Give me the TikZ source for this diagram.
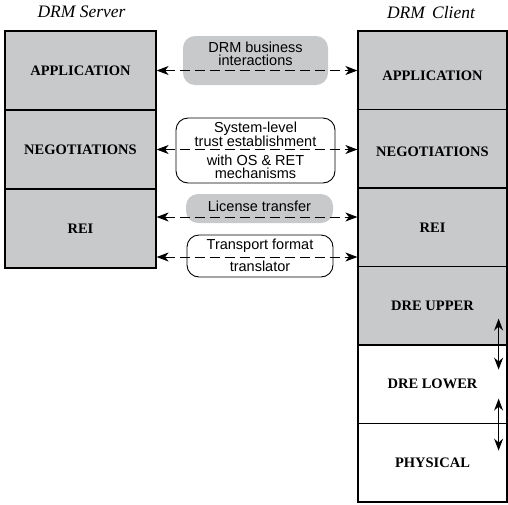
\documentclass[tikz,border=0pt]{standalone}
\usepackage{fontspec}
\setmainfont{Liberation Serif}
\setsansfont{Liberation Sans}
\usetikzlibrary{arrows.meta}
\definecolor{boxgray}{RGB}{200,201,203}
\begin{document}
\begin{tikzpicture}[x=1pt,y=-1pt,
  layer/.style={draw,line width=1.2pt,fill=boxgray,inner sep=0pt,
    minimum width=151pt,minimum height=79pt,
    font=\fontsize{14.5}{16}\selectfont\bfseries},
  clayer/.style={layer,minimum width=149pt,minimum height=78.5pt},
  gbub/.style={fill=boxgray,rounded corners=12pt,inner sep=0pt},
  wbub/.style={draw,line width=0.9pt,fill=white,rounded corners=12pt,inner sep=0pt},
  btxt/.style={align=center,inner sep=0pt,font=\sffamily\fontsize{14.5}{13}\selectfont},
  ttl/.style={font=\itshape\fontsize{17.5}{20}\selectfont},
  link/.style={dash pattern=on 10pt off 5pt,line width=1pt,
    {Stealth[length=12pt,width=9pt,inset=3.5pt]}-{Stealth[length=12pt,width=9pt,inset=3.5pt]}},
  vlink/.style={line width=1.1pt,
    {Stealth[length=12pt,width=9pt,inset=4pt]}-{Stealth[length=12pt,width=9pt,inset=4pt]}}]
\useasboundingbox (0,0) rectangle (508,504);
% titles
\node[ttl] (srvttl) at (81.5,12) {DRM Server};
\node[ttl] (clittl) at (431,13) {DRM\ \,Client};
% server stack
\node[layer] (sapp) at (80.5,70.5) {APPLICATION};
\node[layer] (sneg) at (80.5,149.5) {NEGOTIATIONS};
\node[layer] (srei) at (80.5,228.5) {REI};
% client stack
\node[clayer] (capp) at (432.5,70.25) {\raisebox{-6pt}[\height][\depth]{APPLICATION}};
\node[clayer] (cneg) at (432.5,148.75) {\raisebox{-3pt}[\height][\depth]{NEGOTIATIONS}};
\node[clayer] (crei) at (432.5,227.25) {REI};
\node[clayer] (cdreu) at (432.5,305.75) {DRE UPPER};
\node[clayer,fill=white] (cdrel) at (432.5,384.25) {DRE LOWER};
\node[clayer,fill=white] (cphy) at (432.5,462.75) {PHYSICAL};
% bubbles
\node[gbub,minimum width=145pt,minimum height=49pt] (biz) at (255.5,60.5) {};
\node[wbub,minimum width=159pt,minimum height=65pt] (trust) at (255.5,150.5) {};
\node[gbub,minimum width=147pt,minimum height=29pt] (lic) at (259.5,208.5) {};
\node[wbub,minimum width=146pt,minimum height=42pt] (trn) at (260,256) {};
% links
\coordinate (licy) at (0,217);
\coordinate (trny) at (0,257);
\draw[link] (sapp.east) -- (sapp.east -| capp.west);
\draw[link] (sneg.east) -- (sneg.east -| cneg.west);
\draw[link] (srei.east |- licy) -- (crei.west |- licy);
\draw[link] (srei.east |- trny) -- (crei.west |- trny);
% bubble texts
\node[btxt] (biztxt) at (255.5,54) {DRM business\\interactions};
\node[btxt] (trusttxt) at (255.5,134.5) {System-level\\trust establishment};
\node[btxt] (ostxt) at (255.5,166.5) {with OS \& RET\\mechanisms};
\node[btxt] (lictxt) at (259.5,206) {License transfer};
\node[btxt] (trntxt) at (260,246) {Transport format};
\node[btxt] (trn2txt) at (260,266) {translator};
% client internal
\draw[vlink] ([xshift=-9pt,yshift=27pt]cdreu.south east) -- ([xshift=-9pt,yshift=-24pt]cdreu.south east);
\draw[vlink] ([xshift=-9pt,yshift=25.5pt]cdrel.south east) -- ([xshift=-9pt,yshift=-26.5pt]cdrel.south east);
\end{tikzpicture}
\end{document}
